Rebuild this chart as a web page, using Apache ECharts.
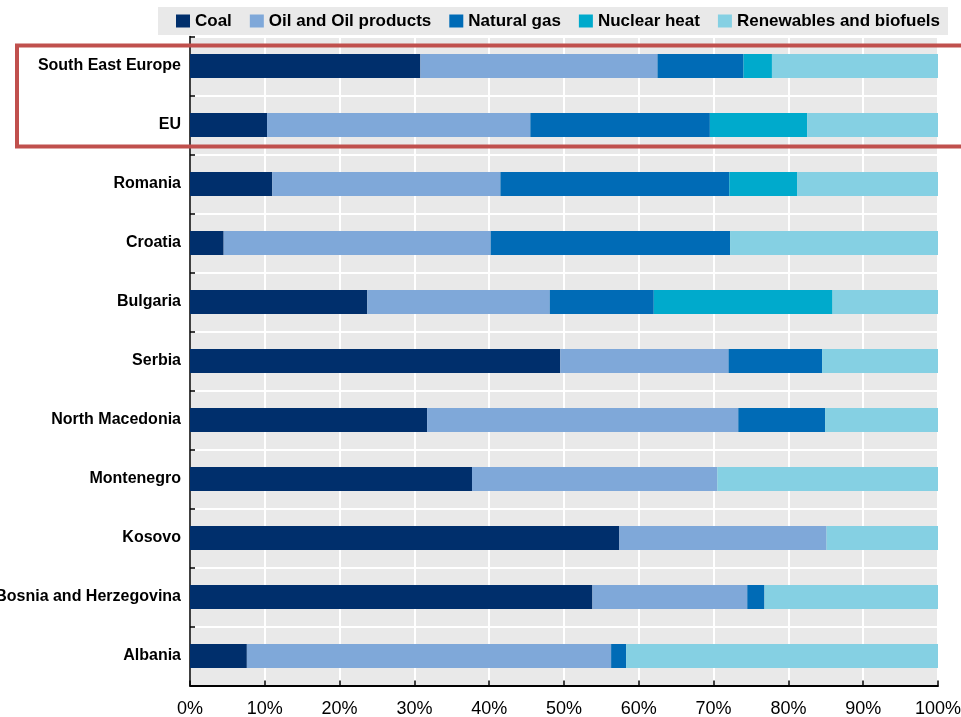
<!DOCTYPE html>
<html>
<head>
<meta charset="utf-8">
<script src="https://cdn.jsdelivr.net/npm/echarts@6/dist/echarts.min.js"></script>
<style>
html,body{margin:0;padding:0;background:#fff;}
#chart{width:961px;height:717px;}
</style>
</head>
<body>
<div id="chart"></div>
<script>
const categories = ["South East Europe","EU","Romania","Croatia","Bulgaria","Serbia","North Macedonia","Montenegro","Kosovo","Bosnia and Herzegovina","Albania"];
const coal       = [30.8, 10.3, 11.0,  4.5, 23.7, 49.5, 31.7, 37.7, 57.4, 53.8,  7.6];
const oil        = [31.7, 35.2, 30.5, 35.7, 24.4, 22.5, 41.6, 32.8, 27.7, 20.7, 48.7];
const naturalGas = [11.5, 24.0, 30.6, 32.0, 13.9, 12.5, 11.6,  0.0,  0.0,  2.3,  2.0];
const nuclear    = [ 3.8, 13.0,  9.1,  0.0, 23.9,  0.0,  0.0,  0.0,  0.0,  0.0,  0.0];
const renewables = [22.2, 17.5, 18.8, 27.8, 14.1, 15.5, 15.1, 29.5, 14.9, 23.2, 41.7];
const seriesNames = ["Coal","Oil and Oil products","Natural gas","Nuclear heat","Renewables and biofuels"];
const xTicks = [0,10,20,30,40,50,60,70,80,90,100];

const colors = ["#002F6C","#7FA8D9","#006BB6","#00AACC","#85D0E3"];
const FONT = "'Liberation Sans',Arial,sans-serif";
const values = [coal, oil, naturalGas, nuclear, renewables];

const chart = echarts.init(document.getElementById('chart'), null, {renderer:'canvas'});
chart.setOption({
  animation: false,
  color: colors,
  legend: {
    data: seriesNames,
    left: 158, top: 7,
    width: 800,
    backgroundColor: '#e9e9e9',
    padding: [4, 8, 4, 18],
    itemGap: 18,
    itemWidth: 14, itemHeight: 13,
    icon: 'rect',
    textStyle: {fontFamily: FONT, fontWeight: 'bold', fontSize: 17, lineHeight: 20, color: '#000'}
  },
  grid: {
    left: 190, right: 23, top: 36.5, bottom: 31.5,
    containLabel: false, outerBoundsMode: 'none',
    show: true, backgroundColor: '#e9e9e9', borderWidth: 0
  },
  xAxis: {
    type: 'value', min: 0, max: 100, interval: 10,
    axisLine: {show: true, lineStyle: {color: '#000', width: 2}},
    axisTick: {show: true, inside: true, length: 5, lineStyle: {color: '#000', width: 1.5}},
    splitLine: {show: true, lineStyle: {color: '#fff', width: 2}},
    axisLabel: {
      formatter: function(v){ return xTicks.indexOf(v) >= 0 ? v + '%' : ''; },
      fontFamily: FONT, fontSize: 18, color: '#000', margin: 15
    }
  },
  yAxis: {
    type: 'category', data: categories, inverse: true,
    axisLine: {show: true, lineStyle: {color: '#000', width: 1.5}},
    axisTick: {show: true, inside: true, length: 5, lineStyle: {color: '#000', width: 1.5}},
    splitLine: {show: true, lineStyle: {color: '#fff', width: 2}},
    axisLabel: {fontFamily: FONT, fontWeight: 'bold', fontSize: 16, color: '#000', margin: 9}
  },
  series: seriesNames.map((n, i) => ({
    name: n, type: 'bar', stack: 'total', barWidth: 24,
    data: values[i],
    itemStyle: {color: colors[i]}
  })),
  graphic: [{
    type: 'rect', z: 100,
    shape: {x: 17, y: 45.5, width: 1000, height: 101},
    style: {fill: 'none', stroke: '#C0504D', lineWidth: 4}
  }]
});
</script>
</body>
</html>
